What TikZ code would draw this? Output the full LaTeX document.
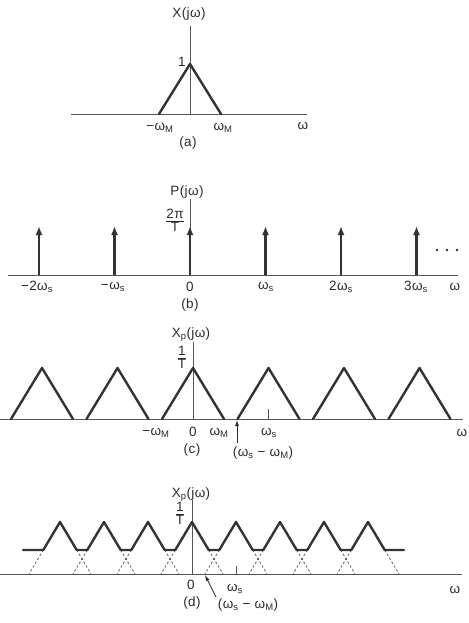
\documentclass[tikz,border=0pt]{standalone}
\usepackage{fontspec}
\setmainfont[LetterSpace=3]{Liberation Sans}
\usetikzlibrary{arrows.meta}
\definecolor{ink}{HTML}{2B2B2B}
\definecolor{axisgray}{HTML}{555555}
\definecolor{curvegray}{HTML}{333333}
\newcommand{\lo}[1]{\textsubscript{#1}}
\begin{document}
\begin{tikzpicture}[x=1pt,y=-1pt,
  lbl/.style={text=ink,font=\fontsize{13.5}{15}\selectfont,inner sep=0pt},
  axisline/.style={draw=axisgray,line width=0.9pt},
  curveline/.style={draw=curvegray,line width=2.4pt,line join=round,line cap=round},
  ghost/.style={draw=axisgray,line width=0.7pt,dash pattern=on 2.5pt off 2pt},
  impulse/.style={draw=curvegray,line width=2.4pt,-{Latex[length=9pt,width=7pt]}},
  pointer/.style={draw=ink,line width=0.8pt,-{Latex[length=6pt,width=4pt]}}]
\useasboundingbox (0,0) rectangle (468,623);

% ---------- (a) ----------
\draw[axisline] (71,114) -- (307,114);
\draw[axisline] (190,26) -- (190,114);
\draw[curveline] (159,114) -- (190,64) -- (221,114);
\node[lbl] (aX) at (189,14) {X(jω)};
\node[lbl] (aone) at (182,62) {1};
\node[lbl] (amM) at (160,128) {−ω\lo{M}};
\node[lbl] (aM) at (223,128) {ω\lo{M}};
\node[lbl] (aw) at (303,126) {ω};
\node[lbl] (acap) at (188,143) {(a)};

% ---------- (b) ----------
\draw[axisline] (8,275) -- (458,275);
\draw[axisline] (190,199) -- (190,275);
\foreach \k in {-2,...,3} {
  \draw[impulse] ({190+75.5*\k},275) -- ({190+75.5*\k},226);
}
\node[lbl] (bP) at (187,192) {P(jω)};
\node[lbl] (bfrac) at (175,222) {\begin{tabular}{@{}c@{}}2π\\[-2pt]\hline\rule{0pt}{11pt}T\end{tabular}};
\foreach \x in {437,447,457} {\fill[ink] (\x,250) circle (1.3);}
\node[lbl] (bm2) at (37,287) {−2ω\lo{s}};
\node[lbl] (bm1) at (113,287) {−ω\lo{s}};
\node[lbl] (b0) at (190,287) {0};
\node[lbl] (b1) at (266,287) {ω\lo{s}};
\node[lbl] (b2) at (341,287) {2ω\lo{s}};
\node[lbl] (b3) at (416,287) {3ω\lo{s}};
\node[lbl] (bw) at (455,287) {ω};
\node[lbl] (bcap) at (190,305) {(b)};

% ---------- (c) ----------
\draw[axisline] (0,419) -- (463,419);
\draw[axisline] (193,342) -- (193,419);
\foreach \k in {-2,...,3} {
  \draw[curveline] ({193+75.5*\k-31},419) -- ({193+75.5*\k},368) -- ({193+75.5*\k+31},419);
}
\draw[axisline] (268.5,409) -- (268.5,419);
\node[lbl] (cX) at (191,335) {X\lo{p}(jω)};
\node[lbl] (cfrac) at (182,359) {\begin{tabular}{@{}c@{}}1\\[-2pt]\hline\rule{0pt}{11pt}T\end{tabular}};
\node[lbl] (cmM) at (156,433) {−ω\lo{M}};
\node[lbl] (c0) at (193,432) {0};
\node[lbl] (cM) at (219,433) {ω\lo{M}};
\node[lbl] (cs) at (269,433) {ω\lo{s}};
\node[lbl] (cw) at (462,433) {ω};
\node[lbl] (ccap) at (192,450) {(c)};
\node[lbl] (cdiff) at (263,453) {(ω\lo{s} − ω\lo{M})};
\coordinate (ctail) at (237,443);
\coordinate (ctip) at (237,420);
\draw[pointer] (ctail) -- (ctip);

% ---------- (d) ----------
\draw[axisline] (0,574) -- (462,574);
\draw[axisline] (192,500) -- (192,574);
\foreach \k in {-3,...,4} {
  \draw[ghost] ({192+44*\k-16.7},550) -- ({192+44*\k-31},574);
  \draw[ghost] ({192+44*\k+16.7},550) -- ({192+44*\k+31},574);
}
\draw[curveline] (23,550)
  \foreach \k in {-3,...,4} { -- ({192+44*\k-16.7},550) -- ({192+44*\k},522) -- ({192+44*\k+16.7},550) }
  -- (404,550);
\draw[axisline] (236,566) -- (236,574);
\node[lbl] (dX) at (191,495) {X\lo{p}(jω)};
\node[lbl] (dfrac) at (180,515) {\begin{tabular}{@{}c@{}}1\\[-2pt]\hline\rule{0pt}{11pt}T\end{tabular}};
\node[lbl] (d0) at (191,585) {0};
\node[lbl] (ds) at (235,589) {ω\lo{s}};
\node[lbl] (dw) at (455,590) {ω};
\node[lbl] (dcap) at (192,603) {(d)};
\node[lbl] (ddiff) at (248,605) {(ω\lo{s} − ω\lo{M})};
\coordinate (dtail) at (216,597);
\coordinate (dtip) at (205,575);
\draw[pointer] (dtail) -- (dtip);
\end{tikzpicture}
\end{document}
